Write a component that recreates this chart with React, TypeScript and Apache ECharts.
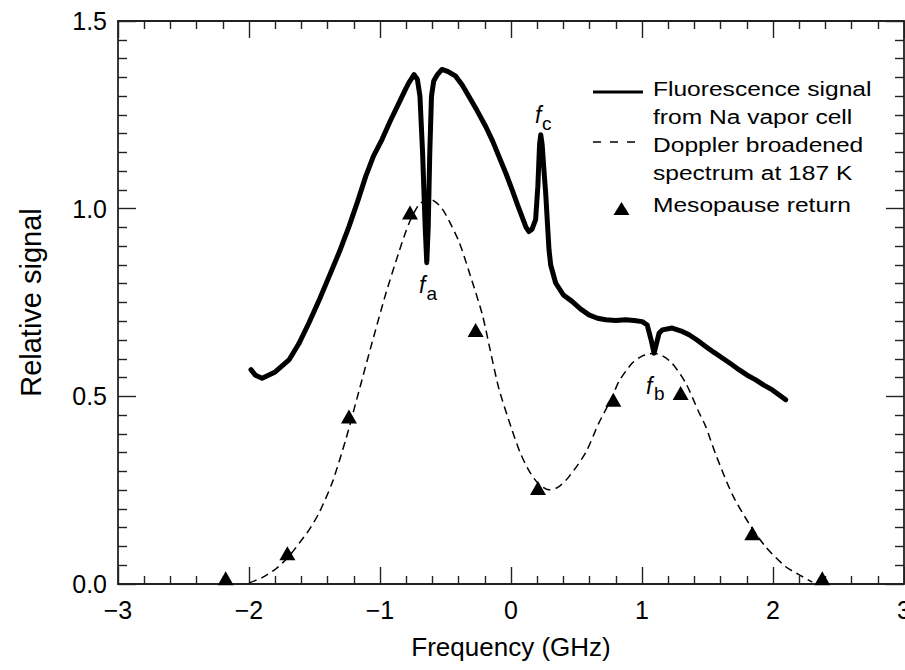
import React, { useEffect, useRef } from "react";
import * as echarts from "echarts";

// Fluorescence signal from Na vapor cell (solid, thick)
const fluorFreq = [
  -1.985, -1.95, -1.9, -1.8, -1.695, -1.62, -1.542, -1.46, -1.389, -1.31, -1.237, -1.17, -1.109,
  -1.05, -0.985, -0.92, -0.855, -0.8, -0.779, -0.74, -0.715, -0.695, -0.675, -0.655, -0.643,
  -0.632, -0.62, -0.607, -0.59, -0.56, -0.527, -0.48, -0.422, -0.37, -0.321, -0.26, -0.193,
  -0.14, -0.092, -0.04, 0.008, 0.05, 0.084, 0.115, 0.137, 0.16, 0.188, 0.205, 0.218, 0.227,
  0.238, 0.25, 0.265, 0.28, 0.29, 0.303, 0.341, 0.4, 0.466, 0.53, 0.595, 0.66, 0.723, 0.8,
  0.875, 0.94, 1.002, 1.04, 1.07, 1.092, 1.11, 1.13, 1.155, 1.231, 1.3, 1.359, 1.42, 1.486,
  1.55, 1.613, 1.68, 1.74, 1.8, 1.868, 1.93, 1.995, 2.05, 2.097,
];
const fluorSignal = [
  0.571, 0.556, 0.548, 0.565, 0.597, 0.64, 0.696, 0.76, 0.819, 0.885, 0.952, 1.02, 1.086,
  1.14, 1.184, 1.235, 1.282, 1.322, 1.336, 1.357, 1.345, 1.3, 1.15, 0.95, 0.856,
  0.95, 1.15, 1.3, 1.34, 1.358, 1.371, 1.365, 1.353, 1.328, 1.299, 1.262, 1.219,
  1.18, 1.139, 1.095, 1.051, 1.01, 0.979, 0.95, 0.939, 0.945, 0.971, 1.06, 1.17, 1.197,
  1.17, 1.11, 1.04, 0.95, 0.891, 0.85, 0.802, 0.77, 0.753, 0.733, 0.717, 0.708, 0.704, 0.702,
  0.704, 0.702, 0.699, 0.69, 0.65, 0.615, 0.64, 0.668, 0.677, 0.682, 0.674, 0.664, 0.65, 0.633,
  0.617, 0.602, 0.586, 0.571, 0.557, 0.544, 0.53, 0.517, 0.503, 0.491,
];

// Doppler broadened spectrum at 187 K (dashed)
const dopplerFreq = [
  -2.0, -1.9, -1.796, -1.7, -1.618, -1.54, -1.466, -1.366, -1.262, -1.16, -1.059, -0.957,
  -0.855, -0.78, -0.7, -0.62, -0.55, -0.499, -0.397, -0.32, -0.219, -0.16, -0.092, 0.008,
  0.07, 0.137, 0.21, 0.29, 0.36, 0.443, 0.57, 0.672, 0.771, 0.824, 0.924, 1.0, 1.092, 1.16,
  1.23, 1.333, 1.435, 1.486, 1.563, 1.69, 1.817, 1.944, 2.097, 2.224, 2.3,
];
const dopplerSignal = [
  0.003, 0.017, 0.04, 0.072, 0.108, 0.145, 0.189, 0.269, 0.384, 0.515, 0.645, 0.772,
  0.885, 0.96, 1.012, 1.026, 1.01, 0.985, 0.912, 0.832, 0.718, 0.625, 0.52, 0.41,
  0.35, 0.302, 0.267, 0.251, 0.258, 0.286, 0.35, 0.43, 0.497, 0.54, 0.588, 0.607, 0.615, 0.607,
  0.588, 0.536, 0.457, 0.42, 0.345, 0.238, 0.161, 0.099, 0.046, 0.02, 0.005,
];

// Mesopause return (triangles)
const returnFreq = [-2.178, -1.707, -1.237, -0.771, -0.27, 0.206, 0.781, 1.295, 1.842, 2.376];
const returnSignal = [0.015, 0.082, 0.446, 0.99, 0.677, 0.256, 0.491, 0.509, 0.135, 0.015];

const legendTexts = [
  "Fluorescence signal",
  "from Na vapor cell",
  "Doppler broadened",
  "spectrum at 187 K",
  "Mesopause return",
];

// annotation labels (data coordinates of the letter centres)
const annotations = [
  { main: "f", sub: "a", x: -0.702, y: 0.796, sx: -0.645, sy: 0.775 },
  { main: "f", sub: "c", x: 0.183, y: 1.25, sx: 0.237, sy: 1.228 },
  { main: "f", sub: "b", x: 1.031, y: 0.527, sx: 1.092, sy: 0.508 },
];

const FONT = '"Liberation Sans", Arial, Helvetica, sans-serif';
const AX = "#222";

const zip = (a: number[], b: number[]) => a.map((v, i) => [v, b[i]]);
const fmtX = (v: number) => String(v).replace("-", "\u2212");

export default function App() {
  const ref = useRef<HTMLDivElement>(null);
  useEffect(() => {
    const chart = echarts.init(ref.current!, null, { renderer: "svg" });
    const axisLine = { show: true, onZero: false, lineStyle: { color: AX, width: 1.8 } };
    const xCommon = {
      type: "value",
      min: -3,
      max: 3,
      interval: 1,
      axisLine,
      axisTick: { show: true, inside: true, length: 17, lineStyle: { color: AX, width: 1.4 } },
      minorTick: { show: true, splitNumber: 5, length: 8, lineStyle: { color: AX, width: 1.4 } },
      splitLine: { show: false },
      minorSplitLine: { show: false },
    };
    const yCommon = {
      type: "value",
      min: 0,
      max: 1.5,
      interval: 0.5,
      axisLine,
      axisTick: { show: true, inside: true, length: 18, lineStyle: { color: AX, width: 1.4 } },
      minorTick: { show: true, splitNumber: 10, length: 9, lineStyle: { color: AX, width: 1.4 } },
      splitLine: { show: false },
      minorSplitLine: { show: false },
    };
    chart.setOption({
      animation: false,
      backgroundColor: "#fff",
      grid: { left: 118, top: 21, width: 786, height: 563, containLabel: false, outerBoundsMode: "none" },
      xAxis: [
        {
          ...xCommon,
          position: "bottom",
          axisLabel: {
            show: true,
            margin: 13,
            fontSize: 25,
            fontFamily: FONT,
            color: "#000",
            formatter: fmtX,
          },
          name: "Frequency (GHz)",
          nameLocation: "middle",
          nameGap: 50,
          nameTextStyle: { fontSize: 26, fontFamily: FONT, color: "#000" },
        },
        { ...xCommon, position: "top", axisLabel: { show: false } },
      ],
      yAxis: [
        {
          ...yCommon,
          position: "left",
          axisLabel: {
            show: true,
            margin: 11,
            fontSize: 25,
            fontFamily: FONT,
            color: "#000",
            formatter: (v: number) => v.toFixed(1),
          },
          name: "Relative signal",
          nameLocation: "middle",
          nameGap: 73,
          nameTextStyle: { fontSize: 29, fontFamily: FONT, color: "#000" },
        },
        { ...yCommon, position: "right", axisLabel: { show: false } },
      ],
      series: [
        {
          name: "Doppler broadened spectrum at 187 K",
          type: "line",
          data: zip(dopplerFreq, dopplerSignal),
          showSymbol: false,
          smooth: 0.25,
          lineStyle: { color: "#000", width: 1.5, type: [8, 5], opacity: 1 },
          z: 2,
        },
        {
          name: "Fluorescence signal from Na vapor cell",
          type: "line",
          data: zip(fluorFreq, fluorSignal),
          showSymbol: false,
          lineStyle: { color: "#000", width: 5, join: "round", cap: "round", opacity: 1 },
          z: 3,
        },
        {
          name: "Mesopause return",
          type: "scatter",
          data: zip(returnFreq, returnSignal),
          symbol: "triangle",
          symbolSize: [16, 14],
          itemStyle: { color: "#000", opacity: 1 },
          z: 4,
        },
      ],
    });

    const g: any[] = [];
    // legend
    g.push({ type: "line", shape: { x1: 593, y1: 92, x2: 643, y2: 92 }, style: { stroke: "#000", lineWidth: 3 } });
    g.push({
      type: "line",
      shape: { x1: 593, y1: 142, x2: 643, y2: 142 },
      style: { stroke: "#000", lineWidth: 1.5, lineDash: [8, 9] },
    });
    g.push({
      type: "polygon",
      shape: { points: [[621.5, 202], [613.5, 215], [629.5, 215]] },
      style: { fill: "#000" },
    });
    const legendY = [88.7, 117, 144.4, 172.7, 204.4];
    legendTexts.forEach((t, i) => {
      g.push({
        type: "text",
        x: 653,
        y: legendY[i],
        scaleX: 1.17,
        style: { text: t, fontSize: 21, fontFamily: FONT, fill: "#000", align: "left", verticalAlign: "middle" },
      });
    });
    annotations.forEach((a) => {
      const p = chart.convertToPixel({ xAxisIndex: 0, yAxisIndex: 0 }, [a.x, a.y]) as number[];
      const q = chart.convertToPixel({ xAxisIndex: 0, yAxisIndex: 0 }, [a.sx, a.sy]) as number[];
      g.push({
        type: "text",
        x: p[0],
        y: p[1],
        style: {
          text: a.main,
          fontSize: 23,
          fontStyle: "italic",
          fontFamily: FONT,
          fill: "#000",
          align: "left",
          verticalAlign: "middle",
        },
      });
      g.push({
        type: "text",
        x: q[0],
        y: q[1],
        style: { text: a.sub, fontSize: 19, fontFamily: FONT, fill: "#000", align: "left", verticalAlign: "middle" },
      });
    });
    chart.setOption({ graphic: g });
    return () => chart.dispose();
  }, []);
  return <div ref={ref} style={{ position: "absolute", left: 0, top: 0, width: 905, height: 670 }} />;
}
